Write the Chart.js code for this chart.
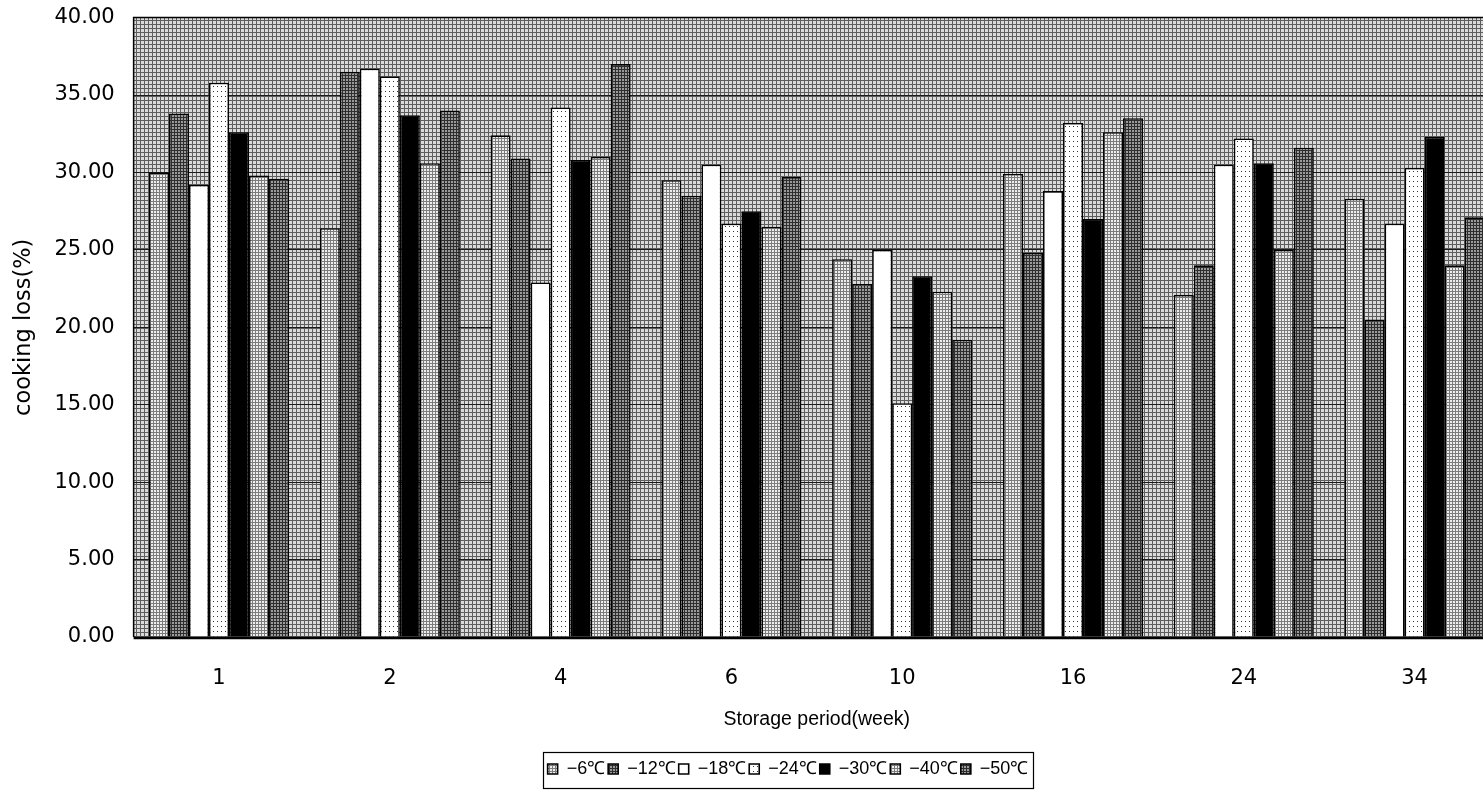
<!DOCTYPE html>
<html>
<head>
<meta charset="utf-8">
<script src="https://cdn.jsdelivr.net/npm/chart.js@4.4.1/dist/chart.umd.min.js"></script>
<style>
  html, body { margin: 0; padding: 0; background: #ffffff; overflow: hidden; }
  #wrap { position: absolute; left: 0; top: 0; width: 1500px; height: 796px; }
</style>
</head>
<body>
<div id="wrap"><canvas id="chart"></canvas></div>
<script>
// Storage period (weeks)
const weeks = ['1', '2', '4', '6', '10', '16', '24', '34'];

// Storage temperatures
const temps = ['\u22126\u2103', '\u221212\u2103', '\u221218\u2103', '\u221224\u2103', '\u221230\u2103', '\u221240\u2103', '\u221250\u2103'];

// Cooking loss (%) for each storage temperature
const lossM6  = [30.0, 26.4, 32.4, 29.5, 24.4, 29.9, 22.1, 28.3];
const lossM12 = [33.8, 36.5, 30.9, 28.5, 22.8, 24.8, 24.0, 20.5];
const lossM18 = [29.2, 36.7, 22.9, 30.5, 25.0, 28.8, 30.5, 26.7];
const lossM24 = [35.8, 36.2, 34.2, 26.7, 15.1, 33.2, 32.2, 30.3];
const lossM30 = [32.6, 33.7, 30.8, 27.5, 23.3, 27.0, 30.6, 32.3];
const lossM40 = [29.8, 30.6, 31.0, 26.5, 22.3, 32.6, 25.0, 24.0];
const lossM50 = [29.6, 34.0, 37.0, 29.7, 19.2, 33.5, 31.6, 27.1];

// Y axis ticks
const yMin = 0, yMax = 40, yStep = 5;

const ctxMain = document.getElementById('chart').getContext('2d');

// Small tiled fills in the style of a monochrome print
function meshPattern(size, bg, line) {
  const c = document.createElement('canvas');
  c.width = size; c.height = size;
  const g = c.getContext('2d');
  g.fillStyle = bg; g.fillRect(0, 0, size, size);
  g.fillStyle = line;
  g.fillRect(0, 0, size, 1);
  g.fillRect(0, 0, 1, size);
  return ctxMain.createPattern(c, 'repeat');
}
function dotPattern(w, h) {
  const c = document.createElement('canvas');
  c.width = w; c.height = h;
  const g = c.getContext('2d');
  g.fillStyle = '#ffffff'; g.fillRect(0, 0, w, h);
  g.fillStyle = '#333333';
  g.fillRect(1, 1, 1, 1);
  return ctxMain.createPattern(c, 'repeat');
}

const plotFill  = meshPattern(4, '#dadada', '#5e5e5e');
const lightFill = meshPattern(3, '#eeeeee', '#7c7c7c');
const darkFill  = meshPattern(3, '#9a9a9a', '#2e2e2e');
const dotFill   = dotPattern(4, 5);

const fills = [lightFill, darkFill, '#ffffff', dotFill, '#000000', lightFill, darkFill];
const series = [lossM6, lossM12, lossM18, lossM24, lossM30, lossM40, lossM50];

const datasets = series.map((vals, i) => ({
  label: temps[i],
  data: vals,
  backgroundColor: fills[i],
  borderColor: '#000000',
  borderWidth: 1.6,
  borderSkipped: 'bottom',
  categoryPercentage: 0.82,
  barPercentage: 1.0
}));

// Textured plot background and frame
const plotBackground = {
  id: 'plotBackground',
  beforeDraw(chart) {
    const { ctx, chartArea: a } = chart;
    ctx.save();
    ctx.fillStyle = plotFill;
    ctx.fillRect(a.left, a.top, a.right - a.left, a.bottom - a.top);
    ctx.restore();
  },
  afterDraw(chart) {
    const { ctx, chartArea: a } = chart;
    ctx.save();
    ctx.strokeStyle = '#000000';
    ctx.lineWidth = 1.5;
    ctx.beginPath();
    ctx.moveTo(a.left, a.bottom);
    ctx.lineTo(a.left, a.top);
    ctx.lineTo(a.right, a.top);
    ctx.stroke();
    ctx.lineWidth = 2.5;
    ctx.beginPath();
    ctx.moveTo(a.left, a.bottom + 1);
    ctx.lineTo(a.right, a.bottom + 1);
    ctx.stroke();
    ctx.restore();
  }
};

// Legend: nudged right of centre and framed
const LEGEND_SHIFT = 36;
const LEGEND_FONT = 18;
const LEGEND_PAD = 3;
const legendFrame = {
  id: 'legendFrame',
  afterUpdate(chart) {
    const lg = chart.legend;
    if (!lg) return;
    lg.left += LEGEND_SHIFT;
    lg.right += LEGEND_SHIFT;
  },
  afterDraw(chart) {
    const lg = chart.legend;
    if (!lg || !lg.lineWidths || !lg.lineWidths.length) return;
    const lineW = lg.lineWidths[0];
    const x0 = (lg.left + LEGEND_PAD + lg.right - lineW) / 2;
    const x1 = x0 + lineW - LEGEND_PAD;
    const y0 = lg.top + LEGEND_PAD;
    const y1 = y0 + LEGEND_FONT;
    const ctx = chart.ctx;
    ctx.save();
    ctx.strokeStyle = '#000000';
    ctx.lineWidth = 1.2;
    ctx.strokeRect(Math.round(x0 - 5) + 0.5, Math.round(y0 - 8) + 0.5, Math.round(x1 - x0 + 9), Math.round(y1 - y0 + 18));
    ctx.restore();
  }
};

new Chart(ctxMain, {
  type: 'bar',
  data: { labels: weeks, datasets },
  plugins: [plotBackground, legendFrame],
  options: {
    responsive: true,
    maintainAspectRatio: false,
    animation: false,
    layout: { padding: { top: 0, right: 0, left: 4, bottom: 8 } },
    plugins: {
      tooltip: { enabled: false },
      legend: {
        display: true,
        position: 'bottom',
        labels: {
          color: '#000000',
          font: { family: '"Liberation Sans Narrow", "Liberation Sans", Arial, sans-serif', size: LEGEND_FONT },
          boxWidth: 10,
          boxHeight: 10,
          padding: LEGEND_PAD,
          useBorderRadius: false
        }
      }
    },
    scales: {
      x: {
        grid: { display: false, drawTicks: false },
        border: { display: false },
        ticks: {
          color: '#000000',
          padding: 29,
          font: { family: '"DejaVu Sans", sans-serif', size: 21 }
        },
        title: {
          display: true,
          text: 'Storage period(week)',
          color: '#000000',
          padding: { top: -12.6, bottom: 26 },
          font: { family: '"Liberation Sans", Arial, sans-serif', size: 19.5 }
        }
      },
      y: {
        min: yMin,
        max: yMax,
        ticks: {
          stepSize: yStep,
          color: '#000000',
          padding: 5,
          font: { family: '"DejaVu Sans", sans-serif', size: 21 },
          callback: v => Number(v).toFixed(2)
        },
        grid: { color: '#1a1a1a', lineWidth: 1, drawTicks: true, tickLength: 14, tickColor: 'rgba(0,0,0,0)' },
        border: { display: false },
        title: {
          display: true,
          text: 'cooking loss(%)',
          color: '#000000',
          padding: { top: 7, bottom: 11.5 },
          font: { family: '"DejaVu Sans", sans-serif', size: 22.5 }
        }
      }
    }
  }
});
</script>
</body>
</html>
